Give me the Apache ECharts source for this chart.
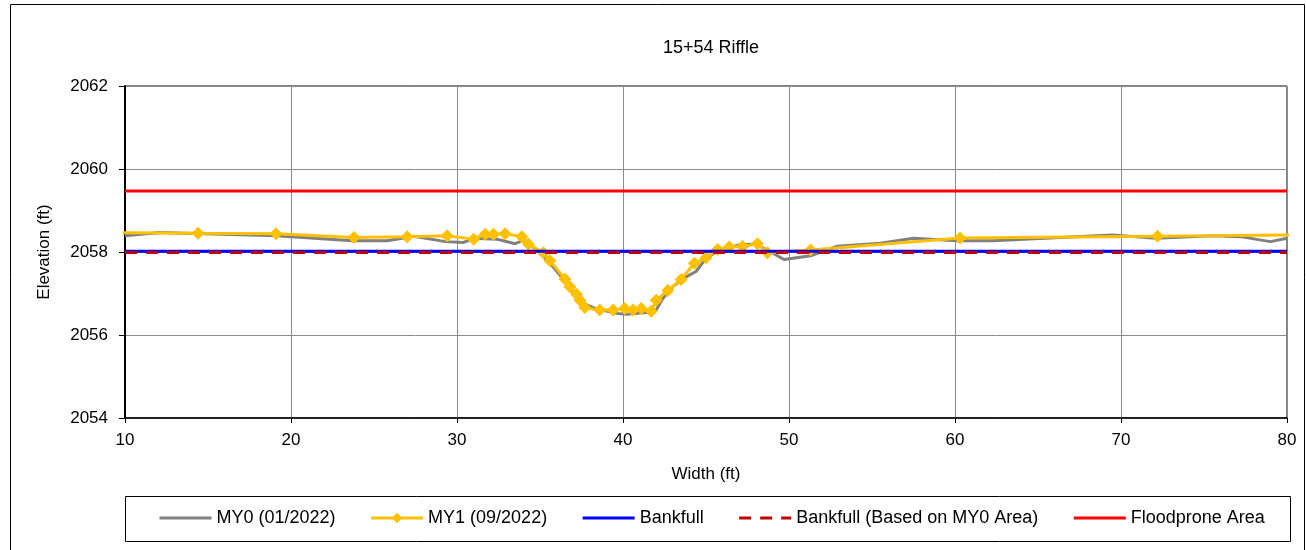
<!DOCTYPE html>
<html>
<head>
<meta charset="utf-8">
<script src="https://cdn.jsdelivr.net/npm/echarts@6/dist/echarts.min.js"></script>
<style>html,body{margin:0;padding:0;background:#fff}#c{width:1306px;height:550px}</style>
</head>
<body>
<div id="c"></div>
<script>
var titleText = '15+54 Riffle';
var xTitle = 'Width (ft)';
var yTitle = 'Elevation (ft)';
var seriesNames = ['MY0 (01/2022)', 'MY1 (09/2022)', 'Bankfull', 'Bankfull (Based on MY0 Area)', 'Floodprone Area'];

var my0Station = [10, 12.1, 19.1, 23.7, 25.8, 27.4, 29.3, 30.4, 31.0, 32.4, 33.5, 34.0, 34.8, 35.6, 36.6, 37.2, 37.6, 38.4, 39.7, 40.2, 41.4, 42.0, 42.4, 43.0, 43.8, 44.4, 45.0, 45.8, 47.0, 48.0, 48.9, 49.7, 51.3, 52.9, 55.5, 57.5, 60.1, 62.3, 69.5, 72.1, 75.6, 77.2, 79.0, 80];
var my0Elev = [2058.39, 2058.47, 2058.39, 2058.27, 2058.27, 2058.38, 2058.25, 2058.23, 2058.33, 2058.31, 2058.20, 2058.28, 2058.05, 2057.73, 2057.25, 2056.92, 2056.76, 2056.63, 2056.52, 2056.50, 2056.54, 2056.60, 2056.88, 2057.17, 2057.40, 2057.53, 2057.85, 2058.05, 2058.17, 2058.19, 2058.00, 2057.82, 2057.91, 2058.14, 2058.21, 2058.33, 2058.27, 2058.27, 2058.41, 2058.33, 2058.39, 2058.37, 2058.25, 2058.33];

var my1Station = [9.0, 14.4, 19.1, 23.8, 27.0, 29.4, 31.0, 31.7, 32.2, 32.9, 33.9, 34.3, 35.2, 35.6, 36.5, 36.8, 37.2, 37.4, 37.7, 38.6, 39.4, 40.1, 40.6, 41.1, 41.7, 42.0, 42.7, 43.5, 44.3, 45.0, 45.7, 46.4, 47.2, 48.1, 48.7, 51.3, 60.3, 72.2, 81.0];
var my1Elev = [2058.47, 2058.45, 2058.44, 2058.35, 2058.37, 2058.39, 2058.31, 2058.43, 2058.43, 2058.44, 2058.37, 2058.19, 2057.98, 2057.79, 2057.35, 2057.16, 2056.98, 2056.84, 2056.66, 2056.60, 2056.60, 2056.64, 2056.60, 2056.64, 2056.57, 2056.84, 2057.07, 2057.34, 2057.73, 2057.86, 2058.06, 2058.12, 2058.13, 2058.20, 2057.98, 2058.05, 2058.34, 2058.38, 2058.41];

var levelStation = [10, 80];
var bankfullElev = [2058.02, 2058.02];
var bankfullMY0Elev = [2057.99, 2057.99];
var floodproneElev = [2059.47, 2059.47];

var xMin = 10, xMax = 80, xStep = 10;
var yMin = 2054, yMax = 2062, yStep = 2;

function pairs(xs, ys) { return xs.map(function (x, i) { return [x, ys[i]]; }); }

var FONT = 'Liberation Sans';
var noSym = { color: 'rgba(0,0,0,0)', borderWidth: 0, opacity: 0 };
var chart = echarts.init(document.getElementById('c'), null, { renderer: 'canvas' });
chart.setOption({
  animation: false,
  backgroundColor: '#fff',
  textStyle: { fontFamily: FONT, color: '#000' },
  title: {
    text: titleText, left: 706, top: 34, textAlign: 'center',
    textStyle: { fontFamily: FONT, fontSize: 18, fontWeight: 'normal', color: '#000' }
  },
  graphic: [
    { type: 'rect', shape: { x: 10.5, y: 4.5, width: 1294, height: 560 }, style: { fill: null, stroke: '#000', lineWidth: 1 }, silent: true, z: -1 },
    { type: 'rect', shape: { x: 125.5, y: 496.5, width: 1165, height: 45 }, style: { fill: null, stroke: '#000', lineWidth: 1 }, silent: true, z: -1 }
  ],
  grid: { left: 125, right: 19, top: 86, bottom: 132, show: true, borderColor: '#000', borderWidth: 1, containLabel: false },
  legend: {
    data: [
      { name: seriesNames[0], itemStyle: noSym },
      { name: seriesNames[1] },
      { name: seriesNames[2], itemStyle: noSym },
      { name: seriesNames[3], itemStyle: noSym },
      { name: seriesNames[4], itemStyle: noSym }
    ],
    left: 158, top: 509, itemWidth: 52, itemHeight: 13, itemGap: 34,
    lineStyle: { width: 3 },
    textStyle: { fontFamily: FONT, fontSize: 18, color: '#000', padding: [0, 0, 0, 0] }, padding: 0
  },
  xAxis: {
    type: 'value', min: xMin, max: xMax, interval: xStep,
    name: xTitle, nameLocation: 'middle', nameGap: 48,
    nameTextStyle: { fontFamily: FONT, fontSize: 17, color: '#000' },
    axisLine: { lineStyle: { color: '#000', width: 1.5 } },
    axisTick: { show: true, inside: false, length: 5, lineStyle: { color: '#000' } },
    axisLabel: { fontFamily: FONT, fontSize: 17, color: '#000', margin: 14 },
    splitLine: { show: true, lineStyle: { color: '#8c8c8c', width: 1 } }
  },
  yAxis: {
    type: 'value', min: yMin, max: yMax, interval: yStep,
    name: yTitle, nameLocation: 'middle', nameGap: 72, nameRotate: 90,
    nameTextStyle: { fontFamily: FONT, fontSize: 17, color: '#000' },
    axisLine: { show: true, lineStyle: { color: '#000', width: 2 } },
    axisTick: { show: true, inside: false, length: 6, lineStyle: { color: '#000' } },
    axisLabel: { fontFamily: FONT, fontSize: 17, color: '#000', margin: 17, formatter: function (v) { return String(v); } },
    splitLine: { show: true, lineStyle: { color: '#8c8c8c', width: 1 } }
  },
  series: [
    { name: seriesNames[0], type: 'line', data: pairs(my0Station, my0Elev), symbol: 'none', showSymbol: false,
      lineStyle: { color: '#808080', width: 3 }, itemStyle: { color: '#808080' }, z: 2 },
    { name: seriesNames[1], type: 'line', data: pairs(my1Station, my1Elev), symbol: 'diamond', symbolSize: 13, showSymbol: true, clip: true,
      lineStyle: { color: '#FFC000', width: 3 }, itemStyle: { color: '#FFC000' }, z: 3 },
    { name: seriesNames[2], type: 'line', data: pairs(levelStation, bankfullElev), symbol: 'none', showSymbol: false,
      lineStyle: { color: '#0000FF', width: 3 }, itemStyle: { color: '#0000FF' }, z: 4 },
    { name: seriesNames[3], type: 'line', data: pairs(levelStation, bankfullMY0Elev), symbol: 'none', showSymbol: false,
      lineStyle: { color: '#C00000', width: 3, type: [12, 9] }, itemStyle: { color: '#C00000' }, z: 5 },
    { name: seriesNames[4], type: 'line', data: pairs(levelStation, floodproneElev), symbol: 'none', showSymbol: false,
      lineStyle: { color: '#FF0000', width: 3 }, itemStyle: { color: '#FF0000' }, z: 6 }
  ]
});
</script>
</body>
</html>
